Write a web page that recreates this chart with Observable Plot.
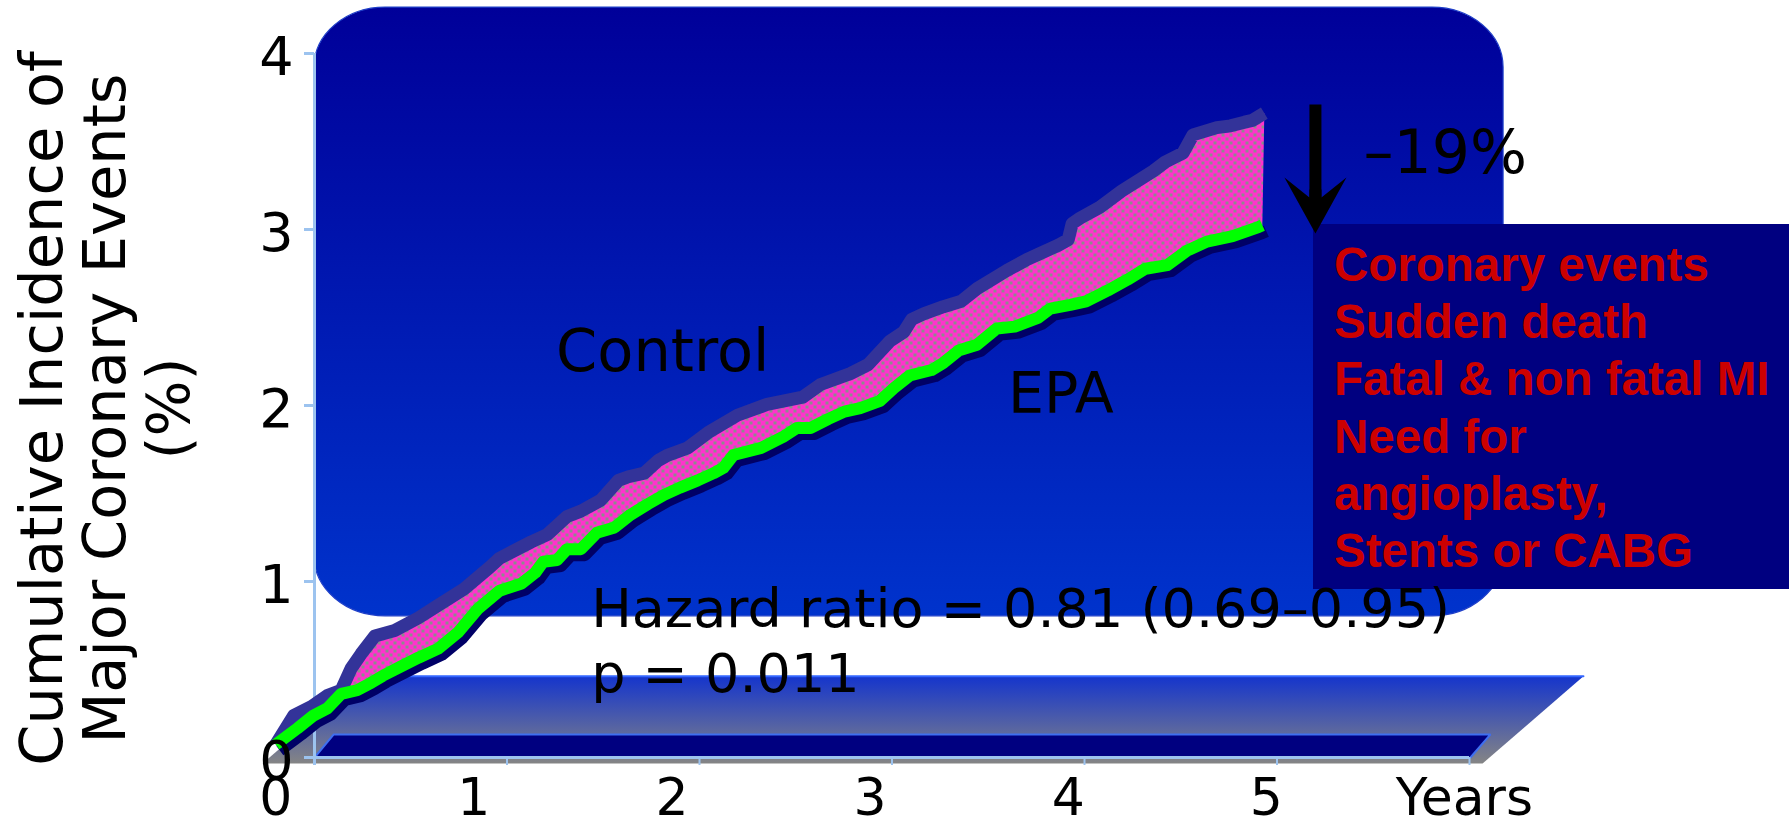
<!DOCTYPE html>
<html><head><meta charset="utf-8">
<script src="https://cdn.jsdelivr.net/npm/d3@7"></script>
<script src="https://cdn.jsdelivr.net/npm/@observablehq/plot@0.6"></script>
<style>
html,body{margin:0;padding:0;background:#fff;}
#chart{position:relative;width:1789px;height:829px;overflow:hidden;}
#chart > svg{position:absolute;left:0;top:0;}
#legend{position:absolute;left:1313px;top:224px;width:455px;height:353px;padding:12px 0 0 21px;background:#000080;color:#cc0000;font:bold 47.5px/57.2px "Liberation Sans",Arial,sans-serif;white-space:nowrap;}
</style></head><body>
<div id="chart">
<svg width="0" height="0" style="position:absolute;left:0;top:0"><defs>
<linearGradient id="wallGrad" x1="0" y1="0" x2="0" y2="1"><stop offset="0" stop-color="#000099"/><stop offset="1" stop-color="#0033cc"/></linearGradient>
<linearGradient id="floorGrad" x1="0" y1="0" x2="0" y2="1"><stop offset="0" stop-color="#1535cc"/><stop offset="1" stop-color="#858585"/></linearGradient>
<pattern id="dots" width="8" height="8" patternUnits="userSpaceOnUse"><rect width="8" height="8" fill="#ff33cc"/><rect x="1" y="1" width="3" height="3" fill="#8c8c8c"/><rect x="5" y="5" width="3" height="3" fill="#8c8c8c"/></pattern>
</defs></svg>
</div>
<script>
// ---------- data ----------
const controlYears = [0.00,0.09,0.18,0.26,0.33,0.38,0.43,0.50,0.60,0.72,0.82,0.95,1.08,1.13,1.29,1.37,1.47,1.54,1.64,1.73,1.78,1.86,1.93,1.98,2.08,2.19,2.33,2.48,2.66,2.75,2.90,2.99,3.10,3.17,3.21,3.27,3.37,3.46,3.54,3.69,3.79,3.85,3.95,4.00,4.02,4.06,4.16,4.27,4.43,4.49,4.58,4.63,4.75,4.82,4.89,4.93,4.99];
const controlPct   = [0.00,0.16,0.21,0.27,0.30,0.42,0.50,0.60,0.63,0.70,0.77,0.86,0.98,1.03,1.12,1.16,1.26,1.29,1.35,1.46,1.48,1.50,1.57,1.60,1.64,1.73,1.82,1.88,1.92,1.99,2.05,2.10,2.23,2.28,2.35,2.38,2.42,2.45,2.52,2.62,2.68,2.71,2.76,2.79,2.88,2.91,2.97,3.06,3.17,3.22,3.27,3.37,3.41,3.42,3.44,3.45,3.49];
const epaYears = [0.00,0.11,0.19,0.26,0.33,0.41,0.48,0.54,0.63,0.72,0.82,0.92,1.02,1.13,1.24,1.31,1.35,1.42,1.47,1.54,1.62,1.71,1.79,1.88,1.96,2.04,2.13,2.21,2.26,2.31,2.45,2.56,2.63,2.70,2.79,2.87,2.95,3.05,3.12,3.20,3.31,3.37,3.45,3.54,3.64,3.73,3.85,3.91,4.01,4.09,4.20,4.30,4.39,4.50,4.60,4.70,4.83,4.96,4.98];
const epaPct   = [0.00,0.09,0.16,0.20,0.28,0.30,0.34,0.38,0.43,0.48,0.53,0.62,0.75,0.85,0.89,0.95,1.01,1.02,1.08,1.08,1.17,1.20,1.27,1.33,1.38,1.42,1.46,1.50,1.53,1.60,1.64,1.70,1.75,1.75,1.80,1.84,1.86,1.90,1.97,2.04,2.07,2.11,2.18,2.21,2.30,2.31,2.36,2.41,2.43,2.45,2.51,2.57,2.63,2.65,2.73,2.78,2.81,2.86,2.87];
const xTicks = [0,1,2,3,4,5,6];
const xTickLabels = ["0","1","2","3","4","5","Years"];
const yTicks = [0,1,2,3,4];
const yTickLabels = ["0","1","2","3","4"];
const yTitleLines = ["Cumulative Incidence of","Major Coronary Events","(%)"];
const seriesNames = ["Control","EPA"];
const statLines = ["Hazard ratio = 0.81 (0.69–0.95)","p = 0.011"];
const reductionLabel = "–19%";
const legendLines = ["Coronary events","Sudden death","Fatal & non fatal MI","Need for","angioplasty,","Stents or CABG"];

// ---------- layout ----------
const W = 1789, H = 829;
const FONT = '"DejaVu Sans", Verdana, sans-serif';
const AXIS_BLUE = "#9cc3ef";
const chart = document.getElementById("chart");

const control = controlYears.map((t, i) => ({t, v: controlPct[i]}));
const epa = epaYears.map((t, i) => ({t, v: epaPct[i]}));
const band = control.concat(epa.slice().reverse());

// back plane (axis wall) frame
const backFrame = {width: W, height: H, marginLeft: 314, marginRight: 320, marginTop: 53, marginBottom: 72,
  x: {domain: [0, 6], axis: null, label: null}, y: {domain: [0, 4], axis: null, label: null},
  style: {background: "none", fontFamily: FONT, overflow: "visible"}};
// front plane (data curves) frame
const frontFrame = {width: W, height: H, marginLeft: 275.3, marginRight: 325.1, marginTop: 20.4, marginBottom: 85,
  x: {domain: [0, 6], axis: null, label: null}, y: {domain: [0, 4], axis: null, label: null},
  style: {background: "none", fontFamily: FONT, overflow: "visible"}};

// decorative scenery in back-plane units
const wall = [{x1: 0, x2: 6.177, y1: 0.802, y2: 4.261}];
const floor = [[-0.27,-0.034],[6.068,-0.034],[6.592,0.461],[0.255,0.461]].map(([x,y]) => ({x,y}));
const floorTop = [floor[3], floor[2]];
const navy = [[0,0],[0.1,0.131],[6.109,0.131],[6.005,0]].map(([x,y]) => ({x,y}));

const back = Plot.plot({...backFrame, marks: [
  Plot.rect(wall, {x1: "x1", x2: "x2", y1: "y1", y2: "y2", rx: 71, ry: 60, fill: "url(#wallGrad)", stroke: "#1f3fc8", strokeWidth: 1.2}),
  Plot.line(floor, {x: "x", y: "y", fill: "url(#floorGrad)", stroke: "none"}),
  Plot.line(floorTop, {x: "x", y: "y", stroke: "#3366ff", strokeWidth: 2}),
  Plot.line(navy, {x: "x", y: "y", fill: "#000080", stroke: "#3f6ff0", strokeWidth: 2, strokeLinejoin: "miter"}),
  Plot.ruleX([0], {y1: -0.045, y2: 4, stroke: AXIS_BLUE, strokeWidth: 3}),
  Plot.ruleY([0], {x1: 0, x2: 6, stroke: AXIS_BLUE, strokeWidth: 3}),
  Plot.axisX(xTicks, {tickSize: 8, tickFormat: () => "", stroke: AXIS_BLUE, strokeWidth: 2, label: null}),
  Plot.axisY(yTicks, {tickSize: 10, tickFormat: () => "", stroke: AXIS_BLUE, strokeWidth: 3, label: null})
]});
chart.appendChild(back);

// legend box
const legend = document.createElement("div");
legend.id = "legend";
legend.innerHTML = legendLines.map(s => s.replace(/&/g, "&amp;")).join("<br>");
chart.appendChild(legend);

// arrow head symbol
const arrowHead = {draw(ctx) {
  ctx.moveTo(0, 0); ctx.lineTo(31, -56); ctx.lineTo(6, -36); ctx.lineTo(6, -44);
  ctx.lineTo(-6, -44); ctx.lineTo(-6, -36); ctx.lineTo(-31, -56); ctx.closePath();
}};
const arrow = [{x: 5.248, top: controlPct[controlPct.length - 1] + 0.045, neck: 3.02, tip: epaPct[epaPct.length - 1] - 0.045}];

const front = Plot.plot({...frontFrame, marks: [
  Plot.line(band, {x: "t", y: "v", fill: "url(#dots)", stroke: "none"}),
  Plot.line(control, {x: "t", y: "v", stroke: "#333399", strokeWidth: 13, strokeLinecap: "butt", strokeLinejoin: "round"}),
  Plot.line(epa, {x: "t", y: "v", stroke: "#000066", strokeWidth: 12, dx: 4, dy: 6, strokeLinecap: "butt", strokeLinejoin: "round"}),
  Plot.line(epa, {x: "t", y: "v", stroke: "#00ff00", strokeWidth: 12, strokeLinecap: "butt", strokeLinejoin: "round"}),
  Plot.text([seriesNames[0]], {x: 1.415, y: 2.067, text: d => d, textAnchor: "start", lineAnchor: "bottom", fontSize: 59, fill: "black"}),
  Plot.text([seriesNames[1]], {x: 3.696, y: 1.835, text: d => d, textAnchor: "start", lineAnchor: "bottom", fontSize: 57, fill: "black"}),
  Plot.text([statLines[0]], {x: 1.592, y: 0.648, text: d => d, textAnchor: "start", lineAnchor: "bottom", fontSize: 54, fill: "black"}),
  Plot.text([statLines[1]], {x: 1.592, y: 0.290, text: d => d, textAnchor: "start", lineAnchor: "bottom", fontSize: 54, fill: "black"}),
  Plot.text([reductionLabel], {x: 5.491, y: 3.158, text: d => d, textAnchor: "start", lineAnchor: "bottom", fontSize: 60, fill: "black"}),
  Plot.ruleX(arrow, {x: "x", y1: "top", y2: "neck", stroke: "black", strokeWidth: 12}),
  Plot.dot(arrow, {x: "x", y: "tip", r: 5, symbol: arrowHead, fill: "black", stroke: "none"}),
  Plot.axisX(xTicks, {tickSize: 0, tickPadding: 34, tickFormat: d => xTickLabels[xTicks.indexOf(d)], fontSize: 52, fill: "black", label: null})
]});
chart.appendChild(front);

// labels on the back plane (drawn on top)
const labels = Plot.plot({...backFrame, marks: [
  Plot.axisY(yTicks, {tickSize: 0, tickPadding: 21, tickFormat: d => yTickLabels[yTicks.indexOf(d)], fontSize: 54, fill: "black", dy: 4, label: null}),
  Plot.text([yTitleLines.join("\n")], {frameAnchor: "left", text: d => d, rotate: -90, textAnchor: "middle", lineAnchor: "bottom", lineHeight: 1.076, fontSize: 59, fill: "black", dx: -126, dy: 3})
]});
chart.appendChild(labels);
</script>
</body></html>
